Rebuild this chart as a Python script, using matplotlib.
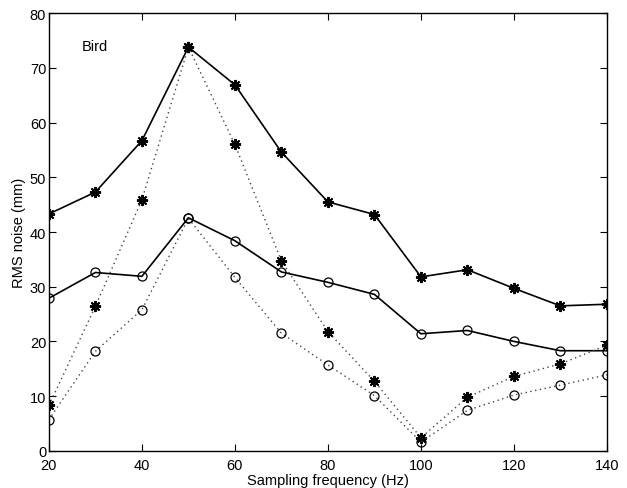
import numpy as np
import matplotlib.pyplot as plt

# 데이터
freq = [20, 30, 40, 50, 60, 70, 80, 90, 100, 110, 120, 130, 140]
solid_star = [43.3, 47.3, 56.7, 73.8, 66.9, 54.6, 45.5, 43.2, 31.8, 33.1, 29.7, 26.5, 26.8]
solid_circ = [27.9, 32.6, 31.9, 42.6, 38.4, 32.7, 30.8, 28.6, 21.4, 22.0, 20.0, 18.3, 18.3]
dot_star = [8.3, 26.4, 45.9, 73.8, 56.0, 34.7, 21.8, 12.7, 2.4, 9.8, 13.6, 15.9, 19.3]
dot_circ = [5.7, 18.2, 25.8, 42.5, 31.7, 21.5, 15.7, 10.1, 1.6, 7.4, 10.2, 12.0, 13.9]

plt.rcParams['font.family'] = ['Liberation Sans', 'DejaVu Sans']
fig = plt.figure(figsize=(6.27, 4.89), dpi=100)
ax = fig.add_axes([0.078, 0.076, 0.89, 0.895])

star = (8, 2, 0)
dots = (0, (1, 2.5))
ax.plot(freq, solid_star, '-', color='black', lw=1.2, marker=star, ms=8, mew=1.4)
ax.plot(freq, solid_circ, '-', color='black', lw=1.2, marker='o', ms=6.5, mfc='none', mew=0.9)
ax.plot(freq, dot_star, ls=dots, color='#444444', lw=1.0, marker=star, ms=8, mew=1.4, mec='black')
ax.plot(freq, dot_circ, ls=dots, color='#444444', lw=1.0, marker='o', ms=6.5, mfc='none', mew=0.9, mec='black')

ax.set_xlim(20, 140)
ax.set_ylim(0, 80)
ax.set_xticks(np.arange(20, 141, 20))
ax.set_yticks(np.arange(0, 81, 10))
ax.tick_params(direction='in', top=True, right=True, labelsize=10.5, length=5)
ax.tick_params(axis='x', pad=5)
ax.tick_params(axis='y', pad=2)
for s in ax.spines.values():
    s.set_linewidth(1.0)

ax.text(27, 74, 'Bird', fontsize=10.5, va='center')
ax.set_xlabel('Sampling frequency (Hz)', fontsize=10.5, labelpad=1)
ax.set_ylabel('RMS noise (mm)', fontsize=10.5, labelpad=3)

fig.savefig('out.png', dpi=100)
